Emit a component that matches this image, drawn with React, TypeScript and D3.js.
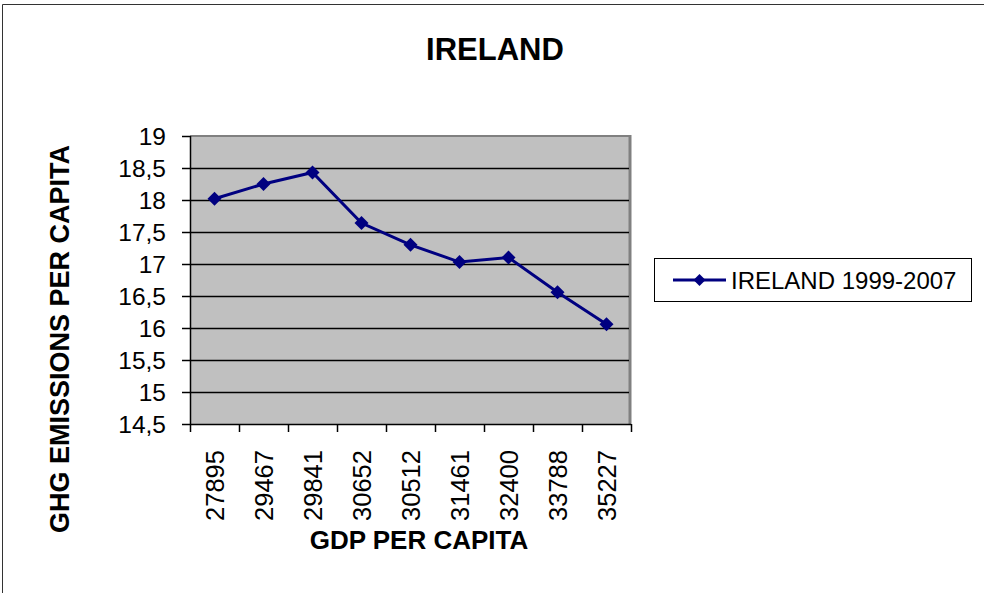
import React from "react";
import * as d3 from "d3";

const categories = ["27895", "29467", "29841", "30652", "30512", "31461", "32400", "33788", "35227"];
const emissions = [18.02, 18.25, 18.43, 17.64, 17.3, 17.03, 17.1, 16.56, 16.06];
const yTicks = [14.5, 15, 15.5, 16, 16.5, 17, 17.5, 18, 18.5, 19];
const title = "IRELAND";
const seriesName = "IRELAND 1999-2007";
const xTitle = "GDP PER CAPITA";
const yTitle = "GHG EMISSIONS PER CAPITA";

const W = 985;
const H = 593;
const plot = { left: 190, right: 631, top: 136, bottom: 424 };
const FONT = "'Liberation Sans', Arial, sans-serif";
const NAVY = "#000080";

export default function App() {
  const x = d3.scaleBand<string>().domain(categories).range([plot.left, plot.right]).padding(0);
  const y = d3.scaleLinear().domain([14.5, 19]).range([plot.bottom, plot.top]);
  const cx = (c: string) => (x(c) as number) + x.bandwidth() / 2;
  const fmt = (v: number) => d3.format("~g")(v).replace(".", ",");

  const line = d3
    .line<number>()
    .x((_, i) => cx(categories[i]))
    .y((d) => y(d));

  const diamond = (px: number, py: number, r = 7) =>
    `M${px},${py - r}L${px + r},${py}L${px},${py + r}L${px - r},${py}Z`;

  const tickEdges = [...categories.map((c) => x(c) as number), plot.right];

  return (
    <svg
      width={W}
      height={H}
      style={{ position: "absolute", left: 0, top: 0, background: "#fff" }}
      fontFamily={FONT}
    >
      <rect x={0} y={0} width={W} height={H} fill="#fff" />
      {/* outer frame */}
      <line x1={2.5} y1={4.5} x2={984} y2={4.5} stroke="#333" strokeWidth={1} />
      <line x1={2.5} y1={4.5} x2={2.5} y2={H} stroke="#333" strokeWidth={1} />

      {/* title */}
      <text x={495} y={60} textAnchor="middle" fontSize={31} fontWeight="bold" fill="#000">
        {title}
      </text>

      {/* plot area */}
      <rect
        x={plot.left}
        y={plot.top}
        width={plot.right - plot.left}
        height={plot.bottom - plot.top}
        fill="#c0c0c0"
      />
      {/* gray border top & right */}
      <line x1={plot.left} y1={plot.top} x2={plot.right} y2={plot.top} stroke="#808080" strokeWidth={2} />
      <line x1={plot.right - 1} y1={plot.top - 1} x2={plot.right - 1} y2={plot.bottom} stroke="#808080" strokeWidth={3} />

      {/* gridlines */}
      {yTicks
        .filter((t) => t !== 14.5 && t !== 19)
        .map((t) => (
          <line
            key={`g${t}`}
            x1={plot.left}
            x2={plot.right - 2}
            y1={Math.round(y(t)) + 0.5}
            y2={Math.round(y(t)) + 0.5}
            stroke="#000"
            strokeWidth={1.5}
          />
        ))}

      {/* y axis */}
      <line x1={plot.left + 0.5} x2={plot.left + 0.5} y1={plot.top} y2={plot.bottom} stroke="#000" strokeWidth={1.5} />
      {yTicks.map((t) => (
        <g key={`yt${t}`}>
          <line x1={182} x2={plot.left} y1={Math.round(y(t)) + 0.5} y2={Math.round(y(t)) + 0.5} stroke="#000" strokeWidth={1.5} />
          <text x={166} y={y(t) + 8.5} textAnchor="end" fontSize={24.5} fill="#000">
            {fmt(t)}
          </text>
        </g>
      ))}

      {/* x axis */}
      <line x1={plot.left} x2={plot.right} y1={plot.bottom + 0.5} y2={plot.bottom + 0.5} stroke="#000" strokeWidth={1.5} />
      {tickEdges.map((e, i) => (
        <line key={`xt${i}`} x1={e + 0.5} x2={e + 0.5} y1={plot.bottom} y2={plot.bottom + 8} stroke="#000" strokeWidth={1.5} />
      ))}
      {categories.map((c) => (
        <text
          key={`xl${c}`}
          transform={`translate(${cx(c) + 9},450) rotate(-90)`}
          textAnchor="end"
          fontSize={25.5}
          fill="#000"
        >
          {c}
        </text>
      ))}

      {/* axis titles */}
      <text x={419} y={549} textAnchor="middle" fontSize={26} fontWeight="bold" fill="#000">
        {xTitle}
      </text>
      <text
        transform={`translate(69,339) rotate(-90)`}
        textAnchor="middle"
        fontSize={27}
        fontWeight="bold"
        fill="#000"
      >
        {yTitle}
      </text>

      {/* series */}
      <path d={line(emissions) || ""} fill="none" stroke={NAVY} strokeWidth={3} />
      {emissions.map((v, i) => (
        <path key={`m${i}`} d={diamond(cx(categories[i]), y(v))} fill={NAVY} />
      ))}

      {/* legend */}
      <rect x={654.5} y={258.5} width={317} height={43} fill="#fff" stroke="#000" strokeWidth={1} />
      <line x1={673} x2={726} y1={280} y2={280} stroke={NAVY} strokeWidth={3} />
      <path d={diamond(699.5, 280, 6)} fill={NAVY} />
      <text x={731} y={288.5} fontSize={24} fill="#000">
        {seriesName}
      </text>
    </svg>
  );
}
